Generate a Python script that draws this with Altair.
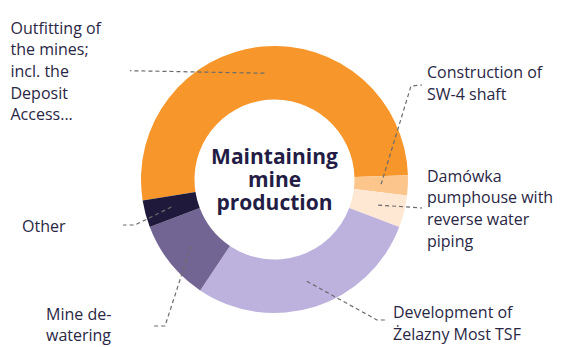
import math
import altair as alt
import pandas as pd

# ---------------- data ----------------
categories = [
    "Outfitting of the mines; incl. the Deposit Access...",
    "Construction of SW-4 shaft",
    "Damówka pumphouse with reverse water piping",
    "Development of Żelazny Most TSF",
    "Mine de-watering",
    "Other",
]
shares = [52.0, 2.4, 3.9, 28.6, 9.8, 3.3]
label_lines = [
    ["Outfitting of", "the mines;", "incl. the", "Deposit", "Access..."],
    ["Construction of", "SW-4 shaft"],
    ["Damówka", "pumphouse with", "reverse water", "piping"],
    ["Development of", "Żelazny Most TSF"],
    ["Mine de-", "watering"],
    ["Other"],
]
title_lines = ["Maintaining", "mine", "production"]

# ---------------- styles / layout ----------------
colors = ["#F7962A", "#FBC58C", "#FEE7D3", "#BDB2DD", "#726594", "#1F1A3B"]
W, H = 546, 339
X0, Y0 = 8, 8                     # page offset of the view
CX, CY = 274.5, 179.5             # donut centre (page px)
R_IN, R_OUT = 80, 133.5
R_MID = (R_IN + R_OUT) / 2
START_DEG = 261.0
label_pos = [(10.5, 33.5), (427, 78.3), (427, 181.7), (393, 318.3), (46, 319.5), (22, 231.7)]
leader_bends = [
    [(130, 70.7)],
    [(411, 86), (422, 85)],
    [(422, 208)],
    [(377, 320), (386, 320)],
    [(165, 326), (153, 326)],
    [(135, 225), (123, 225)],
]
TEXT_COLOR = "#2A2745"
FONT = "Open Sans"

# ---------------- tables ----------------
arc_df = pd.DataFrame({"cat": categories, "share": shares, "idx": range(len(categories))})

total = sum(shares)
rows = []
cum = 0.0
for i, (cat, v) in enumerate(zip(categories, shares)):
    mid = math.radians(START_DEG + 360.0 * (cum + v / 2) / total)
    cum += v
    pts = [(CX + R_MID * math.sin(mid), CY - R_MID * math.cos(mid))] + leader_bends[i]
    for j, (px, py) in enumerate(pts):
        rows.append({"key": cat, "ord": j, "x": px, "y": py})
line_df = pd.DataFrame(rows)

lab_df = pd.DataFrame({
    "key": categories,
    "text": label_lines,
    "x": [p[0] for p in label_pos],
    "y": [p[1] for p in label_pos],
})
title_df = pd.DataFrame({"text": [title_lines], "x": [CX], "y": [164.3]})

xs = alt.Scale(domain=[X0, X0 + W], nice=False, zero=False)
ys = alt.Scale(domain=[Y0, Y0 + H], nice=False, zero=False, reverse=True)

s = math.radians(START_DEG)
arcs = alt.Chart(arc_df).mark_arc(
    innerRadius=R_IN, outerRadius=R_OUT, x=CX - X0, y=CY - Y0
).encode(
    theta=alt.Theta("share:Q", stack=True, scale=alt.Scale(range=[s, s + 2 * math.pi])),
    color=alt.Color("cat:N", scale=alt.Scale(domain=categories, range=colors), legend=None),
    order=alt.Order("idx:Q"),
)

leaders = alt.Chart(line_df).mark_line(
    strokeDash=[4, 3], color="#6b6b6b", strokeWidth=1.2
).encode(
    x=alt.X("x:Q", scale=xs, axis=None),
    y=alt.Y("y:Q", scale=ys, axis=None),
    detail="key:N",
    order="ord:Q",
)

labels = alt.Chart(lab_df).mark_text(
    align="left", baseline="alphabetic", font=FONT, fontSize=16,
    lineHeight=21.7, color=TEXT_COLOR
).encode(
    x=alt.X("x:Q", scale=xs, axis=None),
    y=alt.Y("y:Q", scale=ys, axis=None),
    text="text",
)

title = alt.Chart(title_df).mark_text(
    align="center", baseline="alphabetic", font=FONT, fontSize=21,
    fontWeight="bold", lineHeight=23, color="#231D45"
).encode(
    x=alt.X("x:Q", scale=xs, axis=None),
    y=alt.Y("y:Q", scale=ys, axis=None),
    text="text",
)

chart = alt.layer(arcs, leaders, labels, title).properties(
    width=W, height=H, padding=0, autosize=alt.AutoSizeParams(type="none")
).configure_view(stroke=None)

chart.save("out.html", embed_options={"renderer": "svg", "actions": False})
